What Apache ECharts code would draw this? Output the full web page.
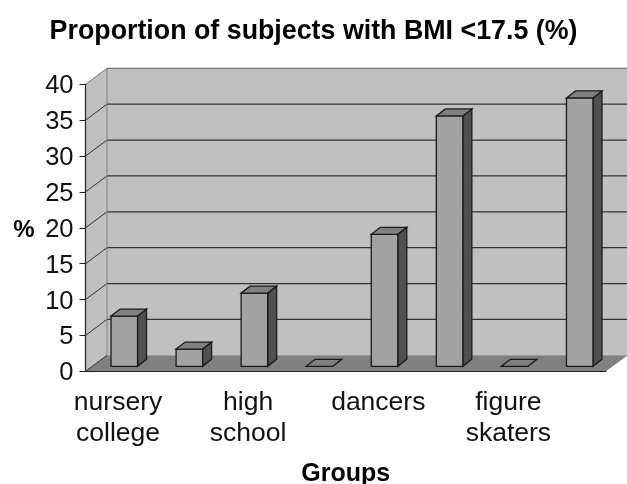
<!DOCTYPE html>
<html>
<head>
<meta charset="utf-8">
<style>html,body{margin:0;padding:0;background:#fff}#chart{width:627px;height:484px}</style>
<script src="https://cdn.jsdelivr.net/npm/echarts@6/dist/echarts.min.js"></script>
</head>
<body>
<div id="chart"></div>
<script>
const titleText = 'Proportion of subjects with BMI <17.5 (%)';
const groupLabels = ['nursery\ncollege', '', 'high\nschool', '', 'dancers', '', 'figure\nskaters', ''];
const proportions = [7.0, 2.4, 10.2, 0, 18.4, 34.9, 0, 37.4];
const yTicks = [0, 5, 10, 15, 20, 25, 30, 35, 40];

// Oblique projection used for the pseudo-3D box
const WALL_DX = 21.5, WALL_DY = -16;
const BAR_DX = 9, BAR_DY = -7;
const BASE_DY = -5, BAR_SHIFT = 6.25, BAR_W = 26.5;

const font = '"Liberation Sans", Arial, sans-serif';
const edge = { stroke: '#1a1a1a', lineWidth: 1.3 };

function renderWalls(params, api) {
  const lo = api.coord([0, 0]);
  const hi = api.coord([7, 40]);
  const band = api.size([1, 0])[0];
  const x0 = lo[0] - band / 2, x1 = hi[0] + band / 2;
  const y0 = lo[1], y1 = hi[1];
  const kids = [
    { type: 'polygon', shape: { points: [[x0 + WALL_DX, y1 + WALL_DY], [x1 + WALL_DX, y1 + WALL_DY], [x1 + WALL_DX, y0 + WALL_DY], [x0 + WALL_DX, y0 + WALL_DY]] }, style: { fill: '#c0c0c0' } },
    { type: 'polygon', shape: { points: [[x0, y1], [x0 + WALL_DX, y1 + WALL_DY], [x0 + WALL_DX, y0 + WALL_DY], [x0, y0]] }, style: { fill: '#c0c0c0' } },
    { type: 'polygon', shape: { points: [[x0, y0], [x0 + WALL_DX, y0 + WALL_DY], [x1 + WALL_DX, y0 + WALL_DY], [x1, y0]] }, style: { fill: '#808080' } }
  ];
  yTicks.forEach(function (t) {
    const y = api.coord([0, t])[1];
    const top = t === 40;
    const back = { stroke: top ? '#777' : '#333', lineWidth: 1.2 };
    if (t > 0) {
      kids.push({ type: 'line', shape: { x1: x0 + WALL_DX, y1: y + WALL_DY, x2: x1 + WALL_DX, y2: y + WALL_DY }, style: back });
    }
    kids.push({ type: 'line', shape: { x1: x0, y1: y, x2: x0 + WALL_DX, y2: y + WALL_DY }, style: { stroke: t === 40 ? '#777' : '#333', lineWidth: 1 } });
  });
  kids.push({ type: 'line', shape: { x1: x0 + WALL_DX, y1: y1 + WALL_DY, x2: x0 + WALL_DX, y2: y0 + WALL_DY }, style: { stroke: '#808080', lineWidth: 1 } });
  return { type: 'group', children: kids };
}

function renderBar(params, api) {
  const cat = api.value(0), val = api.value(1);
  const base = api.coord([cat, 0]);
  const tip = api.coord([cat, val]);
  const l = base[0] + BAR_SHIFT - BAR_W / 2, r = l + BAR_W;
  const b = base[1] + BASE_DY, t = tip[1] + BASE_DY;
  const kids = [];
  if (val > 0) {
    kids.push({ type: 'polygon', shape: { points: [[r, t], [r + BAR_DX, t + BAR_DY], [r + BAR_DX, b + BAR_DY], [r, b]] }, style: Object.assign({ fill: '#505050' }, edge) });
    kids.push({ type: 'rect', shape: { x: l, y: t, width: BAR_W, height: b - t }, style: Object.assign({ fill: '#a2a2a2' }, edge) });
  }
  kids.push({ type: 'polygon', shape: { points: [[l, t], [l + BAR_DX, t + BAR_DY], [r + BAR_DX, t + BAR_DY], [r, t]] }, style: Object.assign({ fill: '#808080' }, edge) });
  return { type: 'group', children: kids };
}

const chart = echarts.init(document.getElementById('chart'), null, { renderer: 'canvas' });
chart.setOption({
  animation: false,
  backgroundColor: '#fff',
  title: {
    text: titleText, left: 'center', top: 13,
    textStyle: { fontFamily: font, fontSize: 26.8, fontWeight: 'bold', color: '#000' }
  },
  grid: { left: 85.5, right: 21, top: 84.3, bottom: 112.7, outerBoundsMode: 'none' },
  xAxis: {
    type: 'category', data: groupLabels, z: 5,
    name: 'Groups', nameLocation: 'middle', nameGap: 90,
    nameTextStyle: { fontFamily: font, fontSize: 25, fontWeight: 'bold', color: '#000' },
    axisLine: { lineStyle: { color: '#222', width: 1.2 } },
    axisTick: { length: 6, lineStyle: { color: '#222', width: 1 } },
    axisLabel: { interval: 0, margin: 16, lineHeight: 31, fontFamily: font, fontSize: 26.5, color: '#111' }
  },
  yAxis: {
    type: 'value', min: 0, max: 40, interval: 5, z: 5,
    name: '%', nameLocation: 'middle', nameRotate: 0, nameGap: 51,
    nameTextStyle: { fontFamily: font, fontSize: 24, fontWeight: 'bold', color: '#000', verticalAlign: 'top', lineHeight: 6 },
    axisLine: { show: true, lineStyle: { color: '#222', width: 1.2 } },
    axisTick: { show: true, length: 6, lineStyle: { color: '#222', width: 1 } },
    axisLabel: { margin: 12, fontFamily: font, fontSize: 25.5, color: '#111', verticalAlign: 'top', lineHeight: 4 },
    splitLine: { show: false }
  },
  series: [
    { type: 'custom', z: 1, clip: false, silent: true, renderItem: renderWalls, data: [[0, 0]], encode: { x: 0, y: 1 } },
    { type: 'custom', z: 3, clip: false, renderItem: renderBar, data: proportions.map(function (v, i) { return [i, v]; }), encode: { x: 0, y: 1 } }
  ]
});
</script>
</body>
</html>
